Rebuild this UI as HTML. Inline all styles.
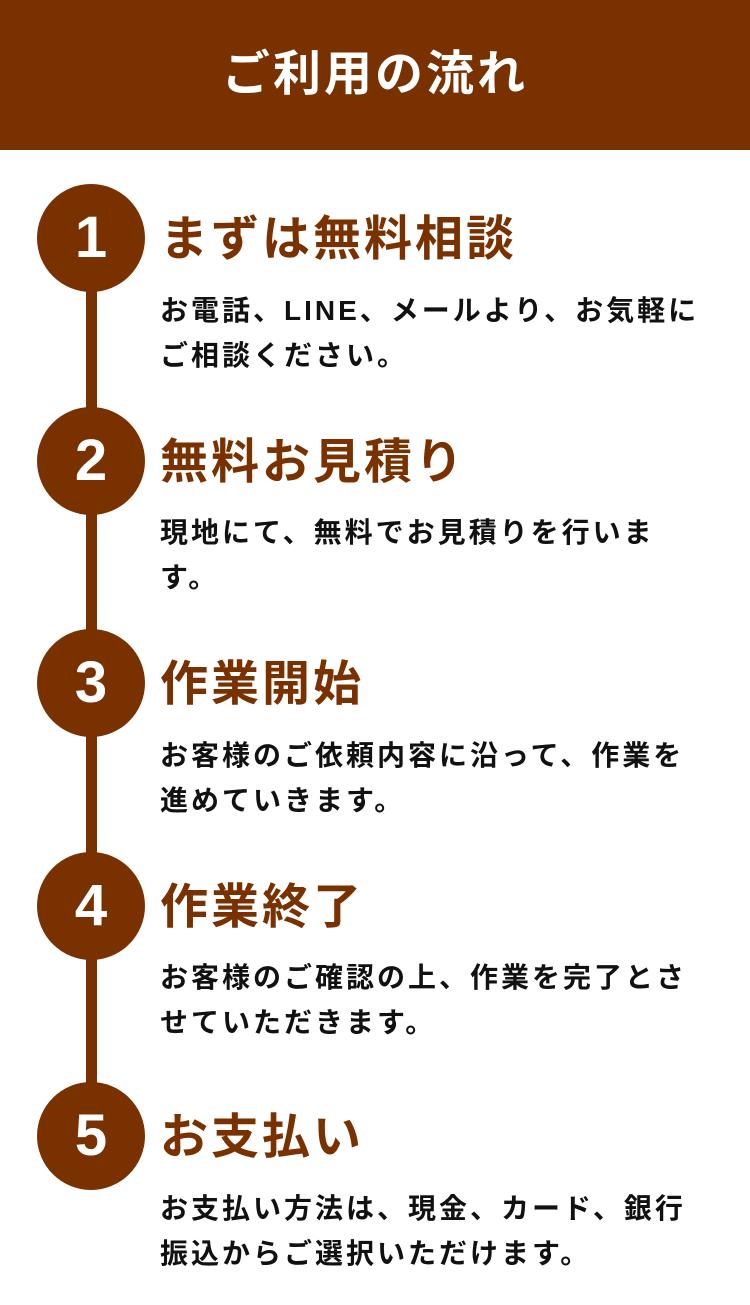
<!DOCTYPE html>
<html><head><meta charset="utf-8"><style>
body{margin:0;width:750px;height:1305px;background:#fff;position:relative;overflow:hidden;font-family:"Liberation Sans","Noto Sans CJK JP",sans-serif;}
.hd{position:absolute;left:0;top:0;width:750px;height:150px;background:#7a3100;color:#fff;font-weight:bold;font-size:48px;letter-spacing:3px;text-align:center;line-height:150px;}
.line{position:absolute;left:86px;top:238px;width:11px;height:898px;background:#7a3100;}
.c{position:absolute;left:37px;width:108px;height:108px;border-radius:50%;background:#7a3100;color:#fff;font-weight:bold;font-size:58px;text-align:center;line-height:108px;font-family:"Liberation Sans",sans-serif;}
.h{position:absolute;left:160px;color:#7a3100;font-weight:bold;font-size:48px;letter-spacing:3px;line-height:50px;white-space:nowrap;}
.t{position:absolute;left:160px;width:545px;color:#111;font-weight:bold;font-size:28px;letter-spacing:3px;line-height:45px;}
</style></head><body>
<div class="hd">ご利用の流れ</div>
<div class="line"></div>
<div class="c" style="top:184px">1</div>
<div class="h" style="top:215px">まずは無料相談</div>
<div class="t" style="top:288px">お電話、LINE、メールより、お気軽に<br>ご相談ください。</div>
<div class="c" style="top:407px">2</div>
<div class="h" style="top:438px">無料お見積り</div>
<div class="t" style="top:510px">現地にて、無料でお見積りを行いま<br>す。</div>
<div class="c" style="top:629px">3</div>
<div class="h" style="top:660px">作業開始</div>
<div class="t" style="top:733px">お客様のご依頼内容に沿って、作業を<br>進めていきます。</div>
<div class="c" style="top:852px">4</div>
<div class="h" style="top:883px">作業終了</div>
<div class="t" style="top:955px">お客様のご確認の上、作業を完了とさ<br>せていただきます。</div>
<div class="c" style="top:1082px">5</div>
<div class="h" style="top:1113px">お支払い</div>
<div class="t" style="top:1186px">お支払い方法は、現金、カード、銀行<br>振込からご選択いただけます。</div>
</body></html>
